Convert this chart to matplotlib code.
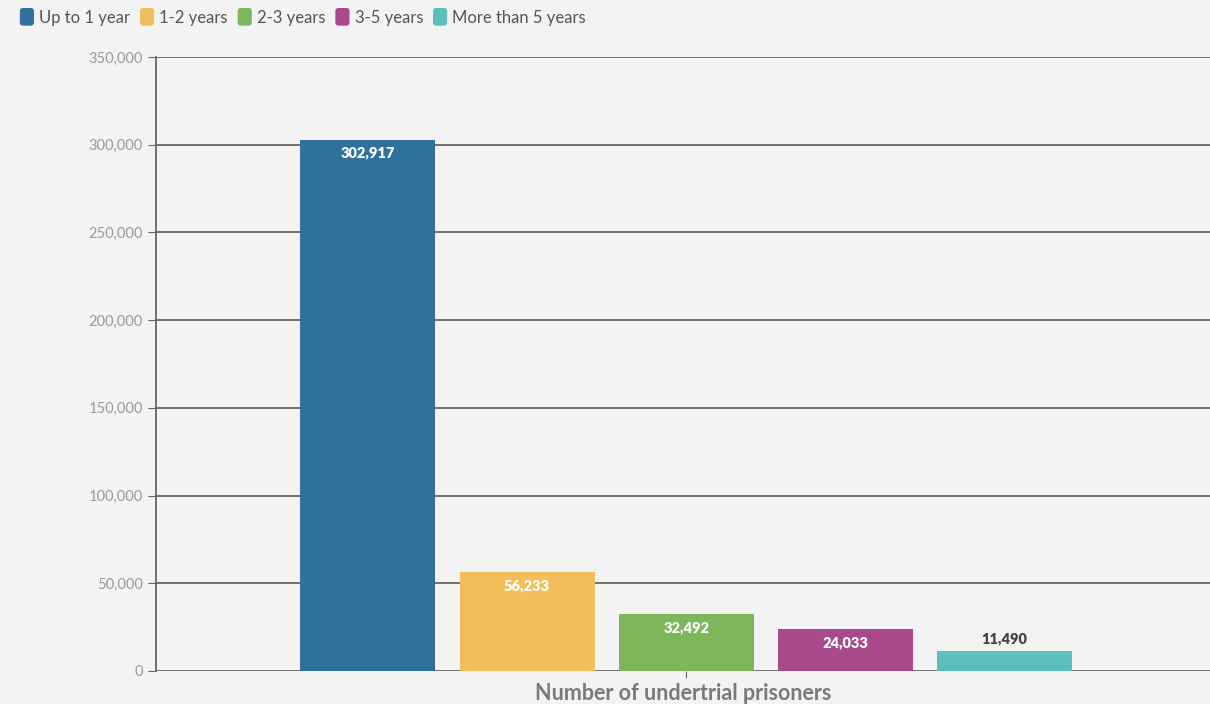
import matplotlib.pyplot as plt
from matplotlib.patches import FancyBboxPatch
from matplotlib.legend_handler import HandlerPatch
from matplotlib.patches import Patch
from matplotlib.ticker import FuncFormatter

categories = ["Up to 1 year", "1-2 years", "2-3 years", "3-5 years", "More than 5 years"]
values = [302917, 56233, 32492, 24033, 11490]
colors = ["#30719b", "#f0bf5c", "#7db75c", "#a8498b", "#5bbfbb"]
xlabel = "Number of undertrial prisoners"

plt.rcParams['font.family'] = ["Lato", "DejaVu Sans"]


class RoundHandler(HandlerPatch):
    def create_artists(self, legend, orig_handle, xdescent, ydescent, width, height, fontsize, trans):
        p = FancyBboxPatch((-xdescent, -ydescent - 1), width, height + 2,
                           boxstyle="round,pad=0,rounding_size=2.5",
                           facecolor=orig_handle.get_facecolor(), edgecolor="none",
                           transform=trans)
        return [p]


fig = plt.figure(figsize=(12.1, 7.04), dpi=100)
fig.patch.set_facecolor("#f3f3f3")
ax = fig.add_axes([0.129, 0.047, 0.871, 0.872])
ax.set_facecolor("#f3f3f3")

width = 0.128
step = 0.151
for i, (v, c) in enumerate(zip(values, colors)):
    x = (i - 2) * step
    ax.bar(x, v, width=width, color=c, zorder=3)
    if v > 20000:
        ax.text(x, v - 4000, f"{v:,}", ha="center", va="top", color="white",
                fontsize=10.5, fontweight="heavy", zorder=4)
    else:
        ax.text(x, v + 3000, f"{v:,}", ha="center", va="bottom", color="#444444",
                fontsize=10.5, fontweight="heavy", zorder=4)

ax.set_xlim(-0.503, 0.497)
ax.set_ylim(0, 350000)
ax.set_yticks(range(0, 350001, 50000))
ax.yaxis.set_major_formatter(FuncFormatter(lambda v, p: f"{int(v):,}"))
ax.grid(axis="y", color="#666666", linewidth=1.3, zorder=1)
ax.set_xticks([0])
ax.set_xticklabels([""])
ax.tick_params(axis="x", length=5, color="#666666")
ax.tick_params(axis="y", length=6, color="#666666", labelcolor="#9a9a9a", labelsize=10.5)
for s in ["top", "right", "bottom"]:
    ax.spines[s].set_visible(False)
ax.spines["left"].set_color("#666666")
ax.spines["left"].set_linewidth(1.3)
ax.set_xlabel(xlabel, fontsize=15.5, fontweight="bold", color="#7a7a7a", labelpad=0)

handles = [Patch(facecolor=c, label=l) for c, l in zip(colors, categories)]
fig.legend(handles=handles, loc="upper left", bbox_to_anchor=(0.004, 1.008), ncol=5,
           frameon=False, fontsize=12, handlelength=0.85, handleheight=1.0,
           handletextpad=0.3, columnspacing=0.6, labelcolor="#555555",
           handler_map={Patch: RoundHandler()})

plt.savefig("out.png", dpi=100, facecolor=fig.get_facecolor())
